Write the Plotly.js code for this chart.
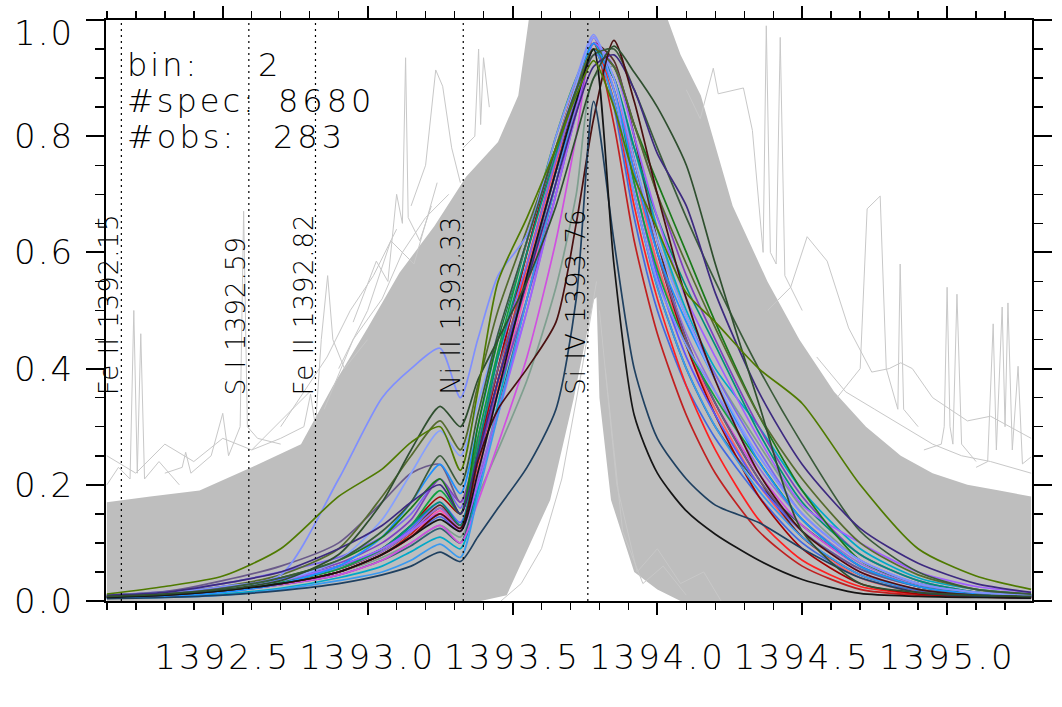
<!DOCTYPE html>
<html>
<head>
<meta charset="utf-8">
<script src="https://cdn.plot.ly/plotly-3.0.1.min.js"></script>
<style>
html,body{margin:0;padding:0;background:#fff;}
#plot{width:1062px;height:707px;}
#plot .xtick text{letter-spacing:3px;}
</style>
</head>
<body>
<div id="plot"></div>
<script>
// ---------- axis ticks ----------
const xTickVals = [1392.5, 1393.0, 1393.5, 1394.0, 1394.5, 1395.0];
const xTickText = ['1392.5', '1393.0', '1393.5', '1394.0', '1394.5', '1395.0'];
const yTickVals = [0.0, 0.2, 0.4, 0.6, 0.8, 1.0];
const yTickText = ['0.0', '0.2', '0.4', '0.6', '0.8', '1.0'];

// ---------- reference lines ----------
const lineNames = ['Fe II 1392.15', 'S I 1392.59', 'Fe II 1392.82', 'Ni II 1393.33', 'Si IV 1393.76'];
const lineWaves = [1392.15, 1392.59, 1392.82, 1393.33, 1393.76];

// ---------- info text ----------
const infoLabels = ['bin:', '#spec:', '#obs:'];
const infoValues = ['2', '8680', '283'];

// ---------- gray envelope of all spectra ----------
const envUpX = [1392.10, 1392.25, 1392.42, 1392.60, 1392.77, 1392.88, 1393.00, 1393.11, 1393.23, 1393.34, 1393.45, 1393.52, 1393.57, 1394.00, 1394.08, 1394.15, 1394.26, 1394.38, 1394.49, 1394.61, 1394.72, 1394.84, 1394.95, 1395.07, 1395.18, 1395.29];
const envUpY = [0.17, 0.18, 0.19, 0.23, 0.27, 0.37, 0.47, 0.565, 0.645, 0.73, 0.79, 0.87, 1.05, 1.05, 0.94, 0.87, 0.68, 0.55, 0.45, 0.36, 0.30, 0.25, 0.22, 0.20, 0.19, 0.18];
const envLoX = [1392.10, 1393.39, 1393.48, 1393.63, 1393.71, 1393.78, 1393.79, 1393.80, 1393.84, 1393.92, 1394.00, 1394.08, 1395.29];
const envLoY = [0.0, 0.0, 0.01, 0.174, 0.346, 0.518, 0.523, 0.35, 0.174, 0.05, 0.02, 0.0, 0.0];

// ---------- individual outlier gray spectra ----------
const gL1x = [1392.10, 1392.14, 1392.18, 1392.193, 1392.205, 1392.217, 1392.23, 1392.28, 1392.35];
const gL1y = [0.20, 0.23, 0.21, 0.50, 0.22, 0.46, 0.21, 0.24, 0.20];
const gL2x = [1392.30, 1392.36, 1392.372, 1392.39, 1392.46, 1392.50, 1392.52, 1392.56, 1392.572, 1392.585, 1392.62, 1392.70];
const gL2y = [0.22, 0.23, 0.256, 0.22, 0.25, 0.323, 0.25, 0.30, 0.671, 0.30, 0.28, 0.27];
const gL3x = [1392.60, 1392.70, 1392.78, 1392.803, 1392.82, 1392.84, 1392.862, 1392.88, 1392.92, 1393.00];
const gL3y = [0.26, 0.28, 0.30, 0.356, 0.30, 0.45, 0.56, 0.45, 0.40, 0.45];
const gL4x = [1392.95, 1393.03, 1393.07, 1393.10, 1393.12, 1393.131, 1393.14, 1393.18, 1393.22];
const gL4y = [0.48, 0.585, 0.55, 0.70, 0.65, 0.935, 0.66, 0.62, 0.68];
const gL5x = [1393.15, 1393.20, 1393.235, 1393.259, 1393.29, 1393.32];
const gL5y = [0.68, 0.75, 0.914, 0.886, 0.78, 0.72];
const gL6x = [1393.33, 1393.37, 1393.383, 1393.39, 1393.40, 1393.42];
const gL6y = [0.78, 0.80, 0.95, 0.82, 0.935, 0.85];
const gL7x = [1392.85, 1392.95, 1393.05, 1393.12, 1393.20, 1393.28];
const gL7y = [0.33, 0.45, 0.52, 0.60, 0.66, 0.70];
const gL8x = [1392.90, 1393.00, 1393.08, 1393.16, 1393.24];
const gL8y = [0.40, 0.50, 0.62, 0.58, 0.72];
const gL9x = [1392.10, 1392.20, 1392.30, 1392.40, 1392.50, 1392.60, 1392.70, 1392.80];
const gL9y = [0.25, 0.22, 0.27, 0.24, 0.28, 0.26, 0.31, 0.36];
const gL10x = [1392.70, 1392.78, 1392.86, 1392.94, 1393.02, 1393.10];
const gL10y = [0.30, 0.36, 0.42, 0.50, 0.56, 0.64];
const gR1x = [1394.10, 1394.148, 1394.193, 1394.21, 1394.297, 1394.328, 1394.365, 1394.376, 1394.39, 1394.41, 1394.424, 1394.44, 1394.50];
const gR1y = [0.88, 0.83, 0.917, 0.873, 0.883, 0.81, 0.60, 0.99, 0.60, 0.58, 0.97, 0.56, 0.50];
const gR2x = [1394.38, 1394.46, 1394.517, 1394.586, 1394.66, 1394.74, 1394.80, 1394.84, 1394.88, 1394.95, 1395.07, 1395.15, 1395.29];
const gR2y = [0.50, 0.54, 0.627, 0.585, 0.47, 0.394, 0.40, 0.41, 0.40, 0.35, 0.31, 0.318, 0.28];
const gR3x = [1394.62, 1394.70, 1394.724, 1394.769, 1394.79, 1394.83, 1394.838, 1394.85, 1394.90];
const gR3y = [0.35, 0.40, 0.675, 0.697, 0.40, 0.33, 0.58, 0.33, 0.30];
const gR4x = [1394.92, 1394.98, 1394.99, 1395.00, 1395.01, 1395.02, 1395.034, 1395.05, 1395.10];
const gR4y = [0.26, 0.27, 0.30, 0.54, 0.30, 0.27, 0.528, 0.27, 0.24];
const gR5x = [1395.10, 1395.14, 1395.159, 1395.17, 1395.19, 1395.20, 1395.21, 1395.225, 1395.245, 1395.26, 1395.29];
const gR5y = [0.23, 0.24, 0.477, 0.26, 0.506, 0.30, 0.513, 0.26, 0.404, 0.236, 0.248];
const gR6x = [1394.55, 1394.65, 1394.75, 1394.85, 1394.95, 1395.05, 1395.15, 1395.29];
const gR6y = [0.42, 0.36, 0.33, 0.30, 0.27, 0.25, 0.24, 0.22];
const gW1x = [1393.46, 1393.53, 1393.60, 1393.67, 1393.74, 1393.79];
const gW1y = [0.0, 0.03, 0.09, 0.21, 0.40, 0.55];
const gW2x = [1393.80, 1393.86, 1393.93, 1394.00, 1394.08, 1394.16, 1394.22];
const gW2y = [0.50, 0.20, 0.05, 0.09, 0.03, 0.05, 0.0];
const gW3x = [1393.82, 1393.88, 1393.95, 1394.02, 1394.10];
const gW3y = [0.40, 0.12, 0.03, 0.06, 0.01];

// ---------- coloured mean spectra (shared wavelength grid) ----------
const specX = [1392.10, 1392.30, 1392.50, 1392.70, 1392.90, 1393.05, 1393.15, 1393.25, 1393.32, 1393.38, 1393.45, 1393.55, 1393.65, 1393.72, 1393.78, 1393.85, 1393.92, 1394.00, 1394.10, 1394.20, 1394.35, 1394.50, 1394.70, 1394.90, 1395.10, 1395.29];
const sOlive      = [0.012,0.025,0.043,0.09,0.18,0.227,0.273,0.30,0.225,0.36,0.55,0.66,0.78,0.87,0.93,0.85,0.73,0.64,0.53,0.48,0.40,0.34,0.20,0.09,0.043,0.02];
const sCornflower = [0.01,0.015,0.025,0.045,0.21,0.35,0.40,0.435,0.35,0.45,0.56,0.63,0.80,0.90,0.975,0.88,0.70,0.55,0.44,0.36,0.25,0.15,0.07,0.03,0.015,0.01];
const sDarkGreen  = [0.008,0.012,0.02,0.035,0.08,0.17,0.26,0.335,0.30,0.38,0.45,0.55,0.68,0.80,0.90,0.955,0.91,0.85,0.75,0.58,0.34,0.12,0.03,0.015,0.01,0.008];
const sDarkPurple = [0.01,0.015,0.03,0.05,0.09,0.13,0.17,0.20,0.15,0.25,0.38,0.55,0.72,0.84,0.92,0.94,0.88,0.77,0.68,0.53,0.36,0.235,0.125,0.065,0.03,0.015];
const sForest     = [0.008,0.012,0.02,0.04,0.07,0.11,0.16,0.21,0.15,0.30,0.45,0.62,0.78,0.88,0.95,0.92,0.82,0.72,0.60,0.48,0.32,0.19,0.07,0.03,0.015,0.01];
const sTeal       = [0.008,0.012,0.02,0.035,0.06,0.09,0.13,0.17,0.13,0.26,0.42,0.60,0.77,0.88,0.95,0.90,0.78,0.66,0.54,0.44,0.29,0.17,0.08,0.035,0.015,0.01];
const sViolet     = [0.008,0.012,0.02,0.035,0.06,0.09,0.12,0.15,0.12,0.20,0.32,0.50,0.70,0.84,0.96,0.92,0.80,0.66,0.52,0.42,0.28,0.165,0.10,0.05,0.025,0.015];
const sDodger     = [0.005,0.008,0.015,0.03,0.06,0.11,0.17,0.235,0.185,0.30,0.45,0.62,0.78,0.88,0.96,0.88,0.74,0.60,0.48,0.38,0.24,0.14,0.06,0.025,0.012,0.008];
const sDodger2    = [0.005,0.006,0.01,0.02,0.035,0.05,0.07,0.098,0.075,0.18,0.32,0.52,0.72,0.86,0.95,0.86,0.70,0.54,0.40,0.30,0.19,0.11,0.045,0.02,0.01,0.006];
const sRed        = [0.006,0.01,0.018,0.03,0.05,0.08,0.11,0.15,0.12,0.24,0.38,0.58,0.76,0.88,0.96,0.86,0.68,0.52,0.37,0.26,0.14,0.07,0.025,0.012,0.008,0.006];
const sDarkRed    = [0.007,0.012,0.02,0.035,0.06,0.09,0.13,0.179,0.15,0.26,0.40,0.60,0.78,0.88,0.95,0.90,0.76,0.60,0.44,0.32,0.18,0.09,0.03,0.012,0.008,0.006];
const sMaroon     = [0.007,0.01,0.018,0.03,0.05,0.08,0.11,0.15,0.125,0.24,0.33,0.40,0.48,0.65,0.83,0.965,0.86,0.70,0.52,0.38,0.22,0.12,0.05,0.02,0.01,0.007];
const sBlack      = [0.006,0.01,0.018,0.03,0.05,0.08,0.11,0.14,0.12,0.22,0.36,0.56,0.74,0.86,0.95,0.58,0.32,0.22,0.155,0.115,0.07,0.037,0.013,0.008,0.006,0.005];
const sNavy       = [0.004,0.006,0.01,0.018,0.03,0.045,0.06,0.084,0.068,0.11,0.16,0.23,0.33,0.52,0.86,0.62,0.40,0.28,0.21,0.165,0.135,0.09,0.04,0.015,0.008,0.005];
const sPink       = [0.006,0.01,0.017,0.03,0.05,0.08,0.11,0.155,0.125,0.22,0.36,0.54,0.72,0.86,0.97,0.88,0.72,0.56,0.42,0.32,0.20,0.12,0.05,0.02,0.01,0.007];
const sOrchid     = [0.006,0.01,0.016,0.028,0.045,0.07,0.10,0.13,0.10,0.17,0.27,0.42,0.62,0.80,0.96,0.90,0.74,0.58,0.44,0.34,0.22,0.13,0.06,0.025,0.012,0.008];
const sSlateBlue  = [0.01,0.016,0.03,0.05,0.075,0.11,0.15,0.21,0.16,0.28,0.42,0.58,0.76,0.87,0.96,0.90,0.76,0.62,0.49,0.39,0.26,0.15,0.07,0.03,0.015,0.01];
const sSlatePurple= [0.01,0.016,0.035,0.06,0.10,0.17,0.22,0.235,0.17,0.27,0.40,0.56,0.74,0.86,0.95,0.90,0.76,0.60,0.45,0.34,0.21,0.12,0.055,0.025,0.012,0.008];
const sLightBlue  = [0.008,0.012,0.02,0.035,0.07,0.14,0.22,0.293,0.25,0.34,0.46,0.62,0.78,0.89,0.97,0.90,0.76,0.62,0.49,0.38,0.25,0.15,0.07,0.03,0.015,0.01];
const sDarkOlive  = [0.01,0.015,0.025,0.045,0.09,0.18,0.25,0.31,0.26,0.37,0.50,0.64,0.78,0.88,0.95,0.92,0.82,0.70,0.58,0.47,0.32,0.21,0.10,0.045,0.02,0.012];
const sCyan       = [0.005,0.007,0.012,0.022,0.04,0.06,0.085,0.11,0.09,0.19,0.34,0.55,0.74,0.87,0.96,0.90,0.78,0.64,0.50,0.40,0.30,0.19,0.09,0.04,0.02,0.012];
const sGrayGreen  = [0.007,0.011,0.018,0.03,0.05,0.075,0.10,0.13,0.11,0.18,0.26,0.38,0.54,0.70,0.90,0.92,0.80,0.64,0.49,0.39,0.27,0.16,0.07,0.03,0.015,0.01];
const sRoyal      = [0.007,0.01,0.018,0.03,0.05,0.08,0.11,0.145,0.12,0.22,0.36,0.56,0.75,0.87,0.97,0.85,0.66,0.50,0.37,0.28,0.18,0.10,0.04,0.018,0.01,0.007];
const sSteel      = [0.006,0.01,0.016,0.028,0.045,0.07,0.095,0.125,0.10,0.20,0.33,0.52,0.72,0.86,0.95,0.86,0.70,0.54,0.40,0.30,0.20,0.13,0.06,0.025,0.012,0.008];
const sGreen      = [0.007,0.011,0.018,0.032,0.055,0.09,0.13,0.19,0.15,0.28,0.43,0.62,0.80,0.90,0.96,0.88,0.72,0.57,0.44,0.35,0.24,0.14,0.06,0.025,0.012,0.008];
const sPurple     = [0.008,0.013,0.024,0.04,0.065,0.10,0.14,0.21,0.17,0.25,0.36,0.52,0.70,0.84,0.94,0.92,0.82,0.70,0.56,0.45,0.30,0.18,0.08,0.035,0.015,0.01];
const sFirebrick  = [0.006,0.01,0.017,0.03,0.05,0.08,0.115,0.16,0.13,0.25,0.40,0.60,0.78,0.89,0.96,0.82,0.62,0.46,0.32,0.22,0.12,0.06,0.02,0.01,0.007,0.005];
const sDarkGreen2 = [0.008,0.012,0.022,0.04,0.07,0.12,0.17,0.25,0.20,0.32,0.46,0.62,0.78,0.88,0.94,0.95,0.88,0.78,0.66,0.55,0.40,0.27,0.12,0.05,0.02,0.012];
const sMedPurple  = [0.007,0.011,0.02,0.034,0.056,0.085,0.12,0.16,0.125,0.21,0.33,0.50,0.70,0.85,0.97,0.90,0.76,0.60,0.46,0.36,0.23,0.14,0.065,0.028,0.014,0.009];
const sBrown2     = [0.007,0.011,0.019,0.033,0.055,0.085,0.12,0.165,0.13,0.24,0.38,0.56,0.74,0.87,0.96,0.93,0.80,0.62,0.45,0.34,0.21,0.11,0.045,0.02,0.01,0.007];
const sSalmon     = [0.006,0.01,0.017,0.03,0.05,0.08,0.11,0.15,0.125,0.23,0.37,0.57,0.75,0.87,0.95,0.88,0.74,0.58,0.44,0.33,0.20,0.11,0.04,0.015,0.008,0.006];
const sBlue       = [0.008,0.012,0.022,0.038,0.06,0.09,0.125,0.17,0.135,0.24,0.38,0.56,0.74,0.86,0.96,0.88,0.72,0.56,0.42,0.32,0.20,0.12,0.055,0.025,0.012,0.008];

const colouredSeries = [
  [sGrayGreen,'#7f9f8f'],[sSteel,'#2f5f6f'],[sRoyal,'#4169e1'],[sCyan,'#00a8c8'],
  [sOrchid,'#d050e0'],[sPink,'#ff50b0'],[sSalmon,'#ff6060'],[sRed,'#ff2020'],
  [sFirebrick,'#c02020'],[sDarkRed,'#a00000'],[sBrown2,'#5a2a2a'],[sMedPurple,'#9370db'],
  [sBlue,'#5060ff'],[sSlateBlue,'#7b68ee'],[sSlatePurple,'#6a5a8a'],[sPurple,'#8040c0'],
  [sGreen,'#10a040'],[sTeal,'#00907a'],[sViolet,'#a060ff'],[sDodger2,'#3a9af0'],
  [sDodger,'#1e90ff'],[sForest,'#1a7a1a'],[sLightBlue,'#87a0ff'],[sDarkOlive,'#556b2f'],
  [sCornflower,'#7f8fff'],[sDarkGreen2,'#3a5a3a'],[sDarkPurple,'#3d2a80'],[sMaroon,'#4a1010'],
  [sNavy,'#1f4060'],[sBlack,'#151515'],[sDarkGreen,'#2f4f2f'],[sOlive,'#4f7a00']
];
const grayLines = [[gL1x,gL1y],[gL2x,gL2y],[gL3x,gL3y],[gL4x,gL4y],[gL5x,gL5y],[gL6x,gL6y],[gL7x,gL7y],[gL8x,gL8y],
  [gL9x,gL9y],[gL10x,gL10y],
  [gR1x,gR1y],[gR2x,gR2y],[gR3x,gR3y],[gR4x,gR4y],[gR5x,gR5y],[gR6x,gR6y],[gW1x,gW1y],[gW2x,gW2y],[gW3x,gW3y]];

// ---------- build ----------
const FONT = 'DejaVu Sans ExtraLight, DejaVu Sans Light, DejaVu Sans, sans-serif';
const spaced = (t, px) => '<span style="letter-spacing:' + px + 'px">' + t + '</span>';
const traces = [];
traces.push({
  x: envUpX.concat(envLoX.slice().reverse()),
  y: envUpY.concat(envLoY.slice().reverse()),
  type: 'scatter', mode: 'lines', fill: 'toself', fillcolor: '#bebebe',
  line: {width: 0, color: '#bebebe'}, hoverinfo: 'skip'
});
grayLines.forEach(g => traces.push({x: g[0], y: g[1], type: 'scatter', mode: 'lines',
  line: {width: 1, color: 'rgb(200,200,200)'}, hoverinfo: 'skip'}));
colouredSeries.forEach(s => traces.push({x: specX, y: s[0], type: 'scatter', mode: 'lines',
  line: {width: 1.7, color: s[1], shape: 'spline', smoothing: 0.7}, hoverinfo: 'skip'}));

const shapes = lineWaves.map(w => ({type: 'line', xref: 'x', yref: 'paper', x0: w, x1: w, y0: 0, y1: 1,
  line: {color: 'black', width: 1.2, dash: '2px,4px'}, layer: 'above'}));

const annotations = [];
lineNames.forEach((n, i) => annotations.push({x: lineWaves[i], y: 0.353, xref: 'x', yref: 'y',
  text: spaced(n, 1), textangle: -90, xanchor: 'right', yanchor: 'bottom', xshift: 4, showarrow: false,
  font: {family: FONT, size: 26, color: 'black'}, borderpad: 0}));
const infoY = [0.9234, 0.8614, 0.7986];
const infoValX = [0.163, 0.1847, 0.1793];
infoLabels.forEach((l, i) => {
  annotations.push({x: 0.0216, y: infoY[i], xref: 'paper', yref: 'paper', text: spaced(l, 3), xanchor: 'left', yanchor: 'middle',
    showarrow: false, font: {family: FONT, size: 32, color: 'black'}, borderpad: 0});
  annotations.push({x: infoValX[i], y: infoY[i], xref: 'paper', yref: 'paper', text: spaced(infoValues[i], 4), xanchor: 'left', yanchor: 'middle',
    showarrow: false, font: {family: FONT, size: 32, color: 'black'}, borderpad: 0});
});
yTickVals.forEach((v, i) => annotations.push({x: 0, y: v, xref: 'paper', yref: 'y', text: spaced(yTickText[i], 2),
  xanchor: 'right', yanchor: 'middle', xshift: -31, yshift: (v === 1.0 ? -13 : 0), showarrow: false,
  font: {family: FONT, size: 34, color: 'black'}, borderpad: 0}));

const layout = {
  width: 1062, height: 707,
  margin: {l: 106, r: 30, t: 20, b: 106},
  paper_bgcolor: 'white', plot_bgcolor: 'white',
  showlegend: false, hovermode: false,
  xaxis: {
    range: [1392.097, 1395.293], tickmode: 'array', tickvals: xTickVals, ticktext: xTickText,
    ticks: 'outside', ticklen: 12, tickwidth: 2, tickcolor: 'black',
    minor: {dtick: 0.1, tick0: 1392.5, ticks: 'outside', ticklen: 7, tickwidth: 1.5, tickcolor: 'black'},
    showline: true, linecolor: 'black', linewidth: 2, mirror: 'allticks',
    showgrid: false, zeroline: false, ticklabelstandoff: 13,
    tickfont: {family: FONT, size: 34, color: 'black'}
  },
  yaxis: {
    range: [0, 1], tickmode: 'array', tickvals: yTickVals, showticklabels: false,
    ticks: 'outside', ticklen: 18, tickwidth: 2, tickcolor: 'black',
    minor: {dtick: 0.05, tick0: 0, ticks: 'outside', ticklen: 9, tickwidth: 1.5, tickcolor: 'black'},
    showline: true, linecolor: 'black', linewidth: 2, mirror: 'allticks',
    showgrid: false, zeroline: false
  },
  shapes: shapes,
  annotations: annotations
};
Plotly.newPlot('plot', traces, layout, {staticPlot: true, displayModeBar: false});
</script>
</body>
</html>
